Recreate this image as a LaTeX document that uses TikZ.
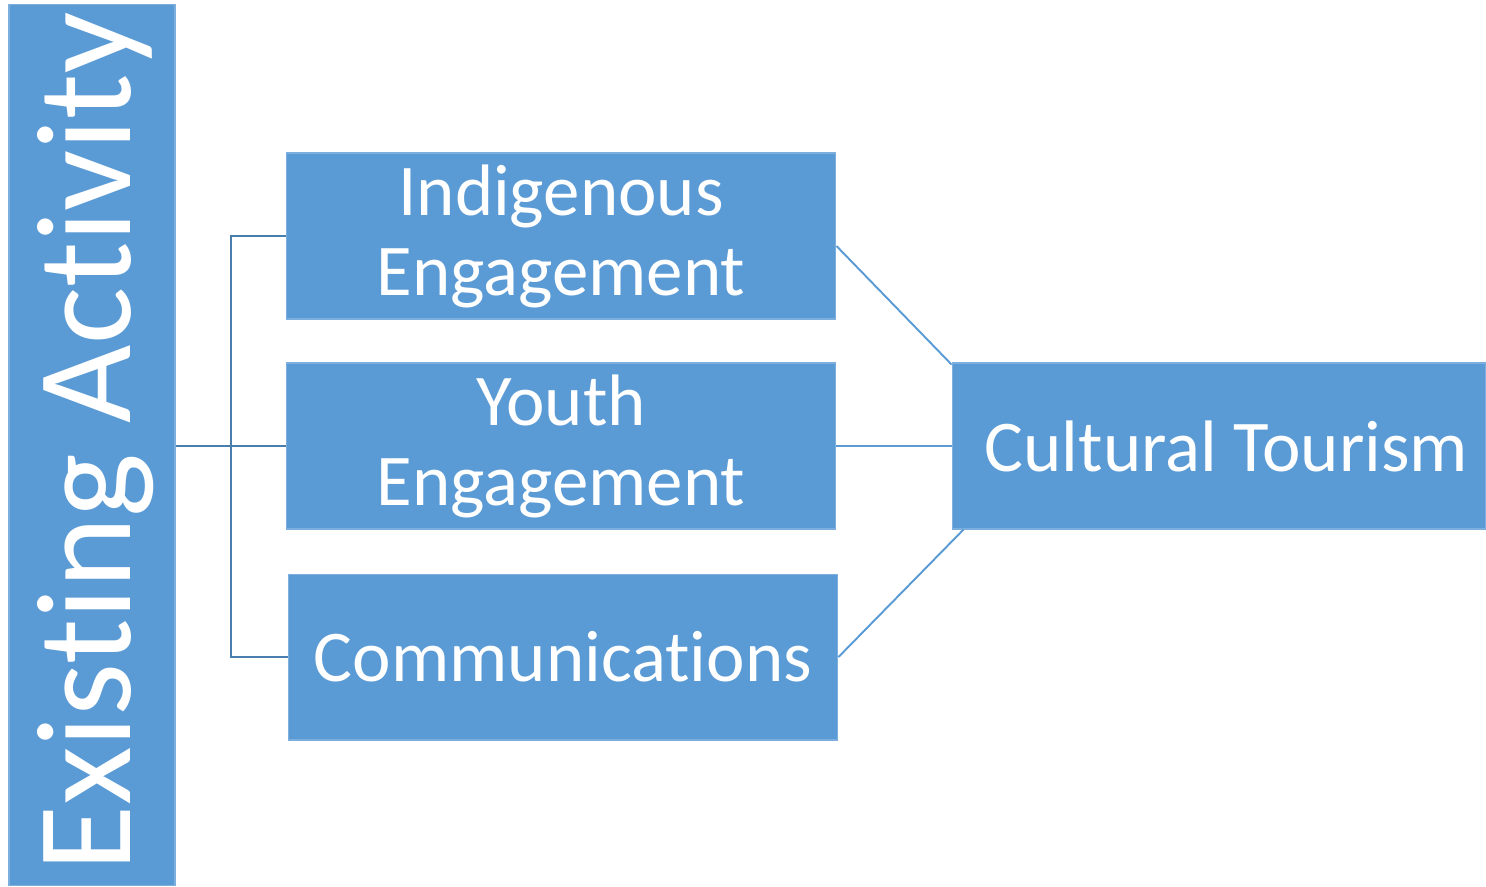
\documentclass[tikz,border=0pt]{standalone}
\usepackage{fontspec}
\setmainfont[Ligatures=NoCommon]{Carlito}
\usepackage{tikz}
\usetikzlibrary{positioning}

\definecolor{boxblue}{HTML}{5B9BD5}
\definecolor{linkdark}{HTML}{4A7EAD}

\tikzset{
    box/.style={fill=boxblue, draw=boxblue!80!white, line width=0.6pt, text=white,
        minimum width=11cm, minimum height=3.32cm, align=center, inner sep=0pt,
        font=\fontsize{41.5}{45.5}\selectfont},
    leftlink/.style={draw=linkdark, line width=1.4pt},
    rightlink/.style={draw=boxblue, line width=1.1pt}
}

\begin{document}
\begin{tikzpicture}[x=0.02cm, y=-0.02cm]
    \useasboundingbox (0,0) rectangle (1486,886);

    % Side bar
    \node[fill=boxblue, draw=boxblue!80!white, line width=0.6pt, minimum width=3.32cm,
        minimum height=17.64cm, inner sep=0pt] (bar) at (92,445) {};
    \node[rotate=90, anchor=base, text=white, font=\fontsize{77}{80}\selectfont,
        inner sep=0pt] (bartext) at (130,442) {Existing Activity};

    % Activity boxes
    \node[box] (ind) at (561,236) {Indigenous\\Engagement};
    \node[box] (youth) at (561,446) {Youth\\Engagement};
    \node[box] (comm) at (563,657) {Communications};

    % Target box
    \node[box, minimum width=10.68cm] (tour) at (1219,446) {\hspace*{0.3cm}Cultural Tourism};

    % Bracket on the left
    \coordinate (fork) at (231,446);
    \draw[leftlink] (bar.east |- youth.west) -- (youth.west);
    \draw[leftlink] (ind.west) -| (fork) |- (comm.west);

    % Links to the target
    \draw[rightlink] ([yshift=-0.2cm]ind.east) -- ([yshift=-0.04cm]tour.north west);
    \draw[rightlink] (youth.east) -- (tour.west);
    \draw[rightlink] (comm.east) -- ([xshift=0.24cm]tour.south west);
\end{tikzpicture}
\end{document}
